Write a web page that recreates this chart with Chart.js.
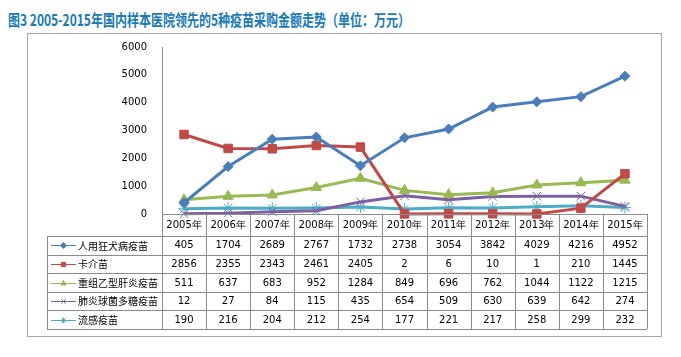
<!DOCTYPE html>
<html>
<head>
<meta charset="utf-8">
<script src="https://cdn.jsdelivr.net/npm/chart.js@4"></script>
<style>
  html, body { margin: 0; padding: 0; background: #ffffff; }
  #wrap { position: relative; width: 681px; height: 357px; overflow: hidden; }
  #title { position: absolute; left: 8px; top: 8px; font-family: "Noto Sans CJK SC", sans-serif; font-weight: bold; font-size: 16px; color: #1a7ab5; white-space: nowrap; transform: scaleX(0.75); transform-origin: left top; line-height: 22px; }
  #frame { position: absolute; left: 27px; top: 33px; width: 635px; height: 304px; border: 1px solid #a6a6a6; box-sizing: border-box; }
  canvas { position: absolute; left: 0; top: 0; }
</style>
</head>
<body>
<div id="wrap">
  <div id="title">图3 2005-2015年国内样本医院领先的5种疫苗采购金额走势（单位：万元）</div>
  <div id="frame"></div>
  <canvas id="c" width="681" height="357"></canvas>
</div>
<script>
const categories = ["2005年","2006年","2007年","2008年","2009年","2010年","2011年","2012年","2013年","2014年","2015年"];
const seriesNames = ["人用狂犬病疫苗","卡介苗","重组乙型肝炎疫苗","肺炎球菌多糖疫苗","流感疫苗"];
const rabies = [405,1704,2689,2767,1732,2738,3054,3842,4029,4216,4952];
const bcg = [2856,2355,2343,2461,2405,2,6,10,1,210,1445];
const hepB = [511,637,683,952,1284,849,696,762,1044,1122,1215];
const pneumo = [12,27,84,115,435,654,509,630,639,642,274];
const flu = [190,216,204,212,254,177,221,217,258,299,232];
const yTicks = [0,1000,2000,3000,4000,5000,6000];

const seriesData = [rabies, bcg, hepB, pneumo, flu];
const colors = ["#4a7ebb","#be4b48","#98b954","#7d60a0","#4bacc6"];
const markers = ["rectRot","rect","triangle","crossRot","star"];
const radii = [5,6,6,6,6];

const GRID = "#8c8c8c";
const tablePlugin = {
  id: "dataTable",
  afterDraw(chart) {
    const ctx = chart.ctx;
    const x = chart.scales.x;
    const area = chart.chartArea;
    const left = area.left, right = area.right;
    const n = categories.length;
    const colW = (right - left) / n;
    const top0 = area.bottom;
    const top1 = top0 + 22;
    const rowH = 18.6;
    const legendLeft = 47;
    const bottom = top1 + rowH * seriesNames.length;
    ctx.save();
    ctx.strokeStyle = GRID;
    ctx.lineWidth = 1;
    ctx.beginPath();
    ctx.moveTo(left, Math.round(top0) + 0.5); ctx.lineTo(right, Math.round(top0) + 0.5);
    for (let k = 0; k <= seriesNames.length; k++) {
      const yy = Math.round(top1 + k * rowH) + 0.5;
      ctx.moveTo(legendLeft, yy); ctx.lineTo(right, yy);
    }
    for (let i = 0; i <= n; i++) {
      const xx = Math.round(left + i * colW) + 0.5;
      ctx.moveTo(xx, top0); ctx.lineTo(xx, bottom);
    }
    ctx.moveTo(legendLeft + 0.5, top1); ctx.lineTo(legendLeft + 0.5, bottom);
    ctx.stroke();

    ctx.fillStyle = "#000";
    ctx.textAlign = "center";
    ctx.textBaseline = "middle";
    ctx.font = "10px 'DejaVu Sans'";
    categories.forEach((c, i) => {
      ctx.fillText(c, x.getPixelForValue(i), top0 + 11);
    });
    seriesData.forEach((arr, s) => {
      const cy = top1 + rowH * (s + 0.5);
      ctx.font = "10px 'DejaVu Sans'";
      ctx.textAlign = "center";
      ctx.fillStyle = "#000";
      arr.forEach((v, i) => ctx.fillText(String(v), x.getPixelForValue(i), cy + 0.5));
      ctx.strokeStyle = colors[s];
      ctx.fillStyle = colors[s];
      ctx.lineWidth = 1;
      ctx.beginPath();
      ctx.moveTo(legendLeft + 4, Math.round(cy) + 0.5);
      ctx.lineTo(legendLeft + 29, Math.round(cy) + 0.5);
      ctx.stroke();
      Chart.helpers.drawPoint(ctx, {pointStyle: markers[s], radius: 3, rotation: 0, borderWidth: 1}, legendLeft + 16.5, Math.round(cy) + 0.5);
      ctx.fillStyle = "#000";
      ctx.textAlign = "left";
      ctx.font = "10px 'Noto Sans CJK SC'";
      ctx.fillText(seriesNames[s], legendLeft + 31, cy + 0.5);
    });
    ctx.restore();
  }
};

new Chart(document.getElementById("c"), {
  type: "line",
  data: {
    labels: categories,
    datasets: seriesNames.map((name, s) => ({
      label: name,
      data: seriesData[s],
      borderColor: colors[s],
      backgroundColor: colors[s],
      borderWidth: 3,
      pointStyle: markers[s],
      pointRadius: radii[s],
      pointBorderColor: colors[s],
      pointBackgroundColor: colors[s],
      pointBorderWidth: 1,
      tension: 0,
      clip: false
    }))
  },
  options: {
    responsive: false,
    animation: false,
    events: [],
    layout: { padding: { left: 102, right: 34, top: 47, bottom: 143 } },
    plugins: { legend: { display: false }, title: { display: false }, tooltip: { enabled: false } },
    scales: {
      x: { type: "category", offset: true, display: false },
      y: {
        min: 0, max: 6000,
        afterBuildTicks(scale) { scale.ticks = yTicks.map(v => ({ value: v })); },
        afterFit(scale) { scale.width = 60; },
        grid: { display: false, drawTicks: false },
        border: { display: true, color: GRID, width: 1 },
        ticks: { padding: 15, color: "#000", font: { family: "'DejaVu Sans'", size: 10 }, callback: (v) => String(v) }
      }
    }
  },
  plugins: [tablePlugin]
});
</script>
</body>
</html>
